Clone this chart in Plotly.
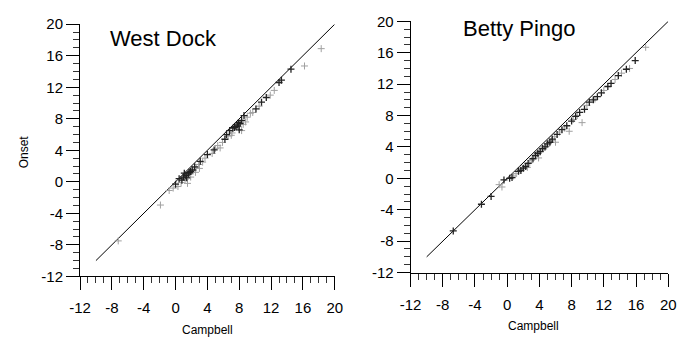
import plotly.graph_objects as go

# ---------------- data ----------------
tick_vals = [-12, -8, -4, 0, 4, 8, 12, 16, 20]
tick_text = ["-12", "-8", "-4", "0", "4", "8", "12", "16", "20"]
line_x = [-10, 20]
line_y = [-10, 20]

wd_dark_x = [14.5, 13.3, 13.0, 11.4, 10.8, 10.1, 8.6, 8.1, 7.8, 7.6, 7.4, 6.8, 6.2, 4.85, 4.0, 3.1, 2.4, 1.7, 1.3, 1.0, 0.45, 0.0, 1.9, 2.1, 8.3, 7.2, 6.4, 1.6, 0.8, 7.9, 8.0, 1.4, 1.1]
wd_dark_y = [14.3, 12.9, 12.6, 10.7, 10.1, 9.25, 8.4, 7.4, 7.2, 7.0, 6.9, 6.5, 5.4, 4.05, 3.45, 2.6, 1.9, 1.2, 0.8, 0.6, 0.4, -0.3, 1.3, 1.5, 7.8, 6.8, 6.0, 1.0, 0.2, 7.5, 6.6, 0.5, 1.1]
wd_gray_x = [18.3, 16.2, 12.4, 11.9, 10.5, 9.4, 9.0, 8.3, 8.8, 7.9, 7.1, 6.6, 5.9, 5.3, 5.0, 4.6, 3.7, 3.4, 2.9, 2.6, 2.2, 1.8, 1.5, 1.2, 0.7, 0.3, -0.3, -0.8, -1.9, -7.2, 3.0, 5.6, 9.7, 8.5, 7.0, 2.5, 1.9]
wd_gray_y = [16.9, 14.7, 11.6, 11.0, 9.6, 8.7, 8.2, 6.5, 7.6, 7.0, 6.2, 5.8, 5.0, 4.6, 4.2, 3.6, 3.0, 2.5, 2.2, 1.8, 1.4, 1.0, -0.2, 0.3, -0.1, -0.6, -0.8, -1.1, -2.95, -7.5, 1.7, 4.3, 8.8, 7.3, 5.9, 1.2, 0.6]

bp_dark_x = [15.9, 14.8, 13.8, 12.9, 12.5, 11.7, 11.2, 10.2, 9.6, 9.0, 8.0, 7.4, 6.2, 5.6, 5.0, 4.4, 3.8, 3.2, 2.6, 2.0, 1.4, 0.6, 0.3, -0.4, -2.0, -3.2, -6.7, 3.5, 4.1, 4.7, 5.3, 2.3, 1.7, 6.8, 8.5, 10.7]
bp_dark_y = [15.0, 13.9, 13.1, 12.1, 11.7, 10.9, 10.4, 9.7, 8.8, 8.4, 7.3, 6.7, 5.6, 5.0, 4.4, 3.8, 3.2, 2.5, 1.9, 1.3, 0.9, 0.1, 0.0, -0.2, -2.3, -3.3, -6.7, 2.9, 3.4, 4.0, 4.6, 1.5, 1.0, 6.2, 7.9, 10.0]
bp_gray_x = [17.2, 15.2, 14.2, 13.4, 12.0, 10.9, 9.9, 9.3, 8.7, 7.7, 7.1, 6.5, 5.9, 5.5, 4.9, 4.2, 3.6, 3.0, 2.8, 2.2, 1.6, 1.1, 0.8, -0.65, -1.0, 6.0, 8.2, 3.9, 2.5]
bp_gray_y = [16.7, 14.0, 13.4, 12.6, 11.2, 10.1, 9.3, 7.1, 8.0, 6.0, 6.4, 5.9, 5.3, 4.8, 4.1, 3.6, 3.0, 2.3, 2.0, 1.6, 1.1, 0.6, 0.3, -1.1, -0.8, 4.6, 7.5, 2.6, 1.4]

# ---------------- figure ----------------
fig = go.Figure()

def add_panel(xa, ya, dx, dy, gx, gy):
    fig.add_trace(go.Scatter(x=line_x, y=line_y, mode="lines",
                             line=dict(color="black", width=1),
                             xaxis=xa, yaxis=ya, showlegend=False, hoverinfo="skip"))
    fig.add_trace(go.Scatter(x=gx, y=gy, mode="markers",
                             marker=dict(symbol="cross-thin", size=5,
                                         line=dict(color="#a0a0a0", width=1)),
                             xaxis=xa, yaxis=ya, showlegend=False))
    fig.add_trace(go.Scatter(x=dx, y=dy, mode="markers",
                             marker=dict(symbol="cross-thin", size=5,
                                         line=dict(color="#222222", width=1.3)),
                             xaxis=xa, yaxis=ya, showlegend=False))

add_panel("x", "y", wd_dark_x, wd_dark_y, wd_gray_x, wd_gray_y)
add_panel("x2", "y2", bp_dark_x, bp_dark_y, bp_gray_x, bp_gray_y)

FAM = "Liberation Sans, Arial, sans-serif"
font = dict(family=FAM, size=15, color="black")

axis_common = dict(range=[-12, 20], tickmode="array", tickvals=tick_vals, ticktext=tick_text,
                   showline=True, linecolor="black", linewidth=1,
                   ticks="outside", ticklen=13, tickwidth=1, tickcolor="black",
                   showgrid=False, zeroline=False, fixedrange=True,
                   minor=dict(dtick=1, ticks="outside", ticklen=6, tickcolor="#333333",
                              tickwidth=1, showgrid=False),
                   tickfont=font)

W, H = 684, 350
fig.update_layout(
    width=W, height=H,
    margin=dict(l=0, r=0, t=0, b=0),
    paper_bgcolor="white", plot_bgcolor="white",
    xaxis=dict(domain=[71 / W, 333 / W], anchor="y", ticklabelstandoff=5, **axis_common),
    yaxis=dict(domain=[(H - 281) / H, (H - 16) / H], anchor="x", **axis_common),
    xaxis2=dict(domain=[411 / W, 676 / W], anchor="y2", ticklabelstandoff=5, **axis_common),
    yaxis2=dict(domain=[(H - 277) / H, (H - 13) / H], anchor="x2", **axis_common),
    annotations=[
        dict(text="West Dock", x=100 / W, y=1 - 31 / H, xref="paper", yref="paper",
             xanchor="left", yanchor="middle", showarrow=False,
             font=dict(family=FAM, size=22, color="black")),
        dict(text="Betty Pingo", x=463 / W, y=1 - 20 / H, xref="paper", yref="paper",
             xanchor="left", yanchor="middle", showarrow=False,
             font=dict(family=FAM, size=22, color="black")),
        dict(text="Campbell", x=202 / W, y=1 - 337 / H, xref="paper", yref="paper",
             xanchor="center", yanchor="middle", showarrow=False,
             font=dict(family=FAM, size=12, color="black")),
        dict(text="Campbell", x=537 / W, y=1 - 333 / H, xref="paper", yref="paper",
             xanchor="center", yanchor="middle", showarrow=False,
             font=dict(family=FAM, size=12, color="black")),
        dict(text="Onset", x=13 / W, y=1 - 150 / H, xref="paper", yref="paper",
             xanchor="center", yanchor="middle", showarrow=False, textangle=-90,
             font=dict(family=FAM, size=12, color="black")),
    ],
)

fig.write_html("out.html", config={"displayModeBar": False},
               post_script="document.body.style.margin='0px';document.body.style.overflow='hidden';")
